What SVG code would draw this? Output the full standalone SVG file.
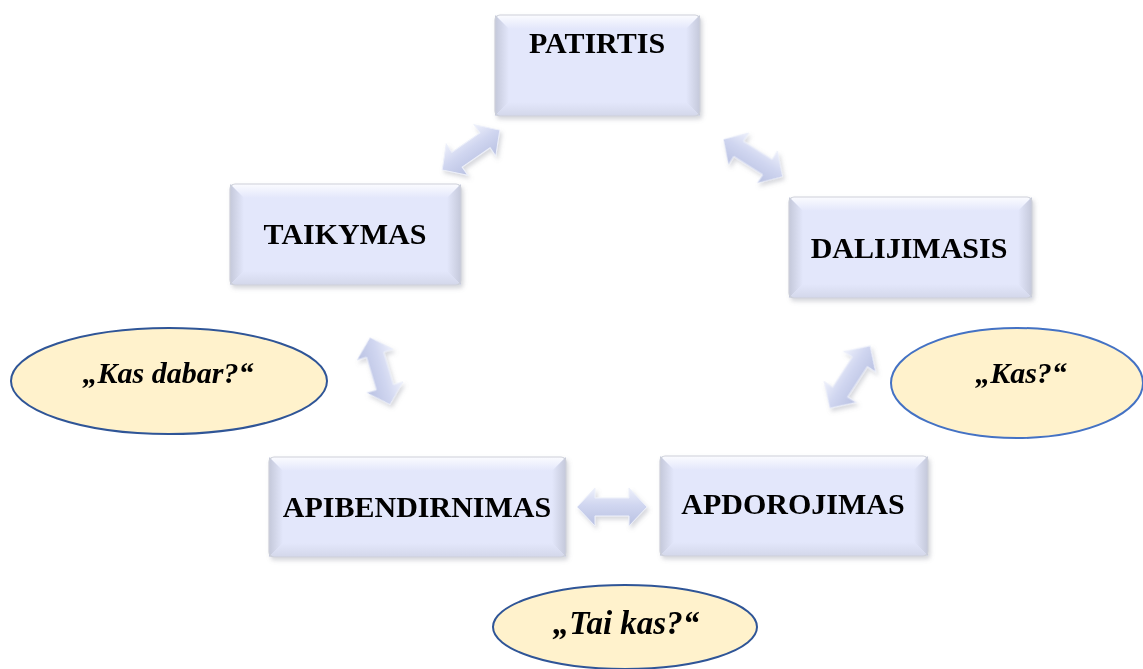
<svg xmlns="http://www.w3.org/2000/svg" xmlns:xlink="http://www.w3.org/1999/xlink" width="1143" height="669" viewBox="0 0 1143 669">
  <defs>
    <style>
      .label { font-family: "Liberation Serif", "Times New Roman", serif; font-weight: bold; font-size: 30px; fill: #000; text-anchor: middle; }
      .quote { font-family: "Liberation Serif", "Times New Roman", serif; font-weight: bold; font-style: italic; font-size: 30px; fill: #000; text-anchor: middle; }
      .face { fill: #E3E7FB; }
      .top { fill: url(#topGrad); }
      .left { fill: url(#leftGrad); }
      .right { fill: url(#rightGrad); }
      .bottom { fill: url(#bottomGrad); }
      .rim { fill: none; stroke: #CDD0D9; stroke-width: 1.2; }
      .bubble { fill: #FFF2CC; stroke-width: 2; }
      .arrow { fill: url(#arrowGrad); stroke: #EDF0FA; stroke-width: 1; }
    </style>
    <linearGradient id="topGrad" x1="0" y1="0" x2="0" y2="1">
      <stop offset="0" stop-color="#FBFCFF"/>
      <stop offset="1" stop-color="#E3E7FB"/>
    </linearGradient>
    <linearGradient id="bottomGrad" x1="0" y1="0" x2="0" y2="1">
      <stop offset="0" stop-color="#E3E7FB"/>
      <stop offset="1" stop-color="#D3D7EA"/>
    </linearGradient>
    <linearGradient id="leftGrad" x1="0" y1="0" x2="1" y2="0">
      <stop offset="0" stop-color="#C4C8DA"/>
      <stop offset="1" stop-color="#E3E7FB"/>
    </linearGradient>
    <linearGradient id="rightGrad" x1="0" y1="0" x2="1" y2="0">
      <stop offset="0" stop-color="#E3E7FB"/>
      <stop offset="1" stop-color="#C4C8DA"/>
    </linearGradient>
    <linearGradient id="arrowGrad" x1="0" y1="0" x2="0" y2="1">
      <stop offset="0" stop-color="#EEF0FB"/>
      <stop offset="0.45" stop-color="#D0D6F0"/>
      <stop offset="1" stop-color="#B9C1E2"/>
    </linearGradient>
    <filter id="shadow" x="-10%" y="-10%" width="120%" height="130%">
      <feDropShadow dx="2" dy="3" stdDeviation="2" flood-color="#7A7F90" flood-opacity="0.3"/>
    </filter>
    <path id="dblArrow" d="M-35,0 L-17,-19 L-17,-9 L17,-9 L17,-19 L35,0 L17,19 L17,9 L-17,9 L-17,19 Z"/>
  </defs>

  <rect x="0" y="0" width="1143" height="669" fill="#FFFFFF"/>

  <!-- double-headed connectors between stages -->
  <g id="connectors" class="arrow" filter="url(#shadow)">
    <use xlink:href="#dblArrow" transform="translate(471,150) rotate(-34.6)"/>
    <use xlink:href="#dblArrow" transform="translate(753,158) rotate(32.3)"/>
    <use xlink:href="#dblArrow" transform="translate(380,371) rotate(73.4)"/>
    <use xlink:href="#dblArrow" transform="translate(850,377) rotate(-57) scale(1.06,1)"/>
    <use xlink:href="#dblArrow" transform="translate(612,507)"/>
  </g>

  <!-- bevelled stage boxes -->
  <g id="patirtis" filter="url(#shadow)">
    <rect class="face" x="495" y="15" width="205" height="101" rx="5"/>
    <polygon class="top" points="495,15 700,15 686,29 509,29"/>
    <polygon class="left" points="495,15 509,29 509,102 495,116"/>
    <polygon class="right" points="700,15 700,116 686,102 686,29"/>
    <polygon class="bottom" points="495,116 509,102 686,102 700,116"/>
    <rect class="rim" x="495" y="15" width="205" height="101" rx="5"/>
    <text class="label" x="597" y="53">PATIRTIS</text>
  </g>

  <g id="taikymas" filter="url(#shadow)">
    <rect class="face" x="230" y="184" width="231" height="101" rx="5"/>
    <polygon class="top" points="230,184 461,184 447,198 244,198"/>
    <polygon class="left" points="230,184 244,198 244,271 230,285"/>
    <polygon class="right" points="461,184 461,285 447,271 447,198"/>
    <polygon class="bottom" points="230,285 244,271 447,271 461,285"/>
    <rect class="rim" x="230" y="184" width="231" height="101" rx="5"/>
    <text class="label" x="345" y="244">TAIKYMAS</text>
  </g>

  <g id="dalijimasis" filter="url(#shadow)">
    <rect class="face" x="789" y="197" width="243" height="101" rx="5"/>
    <polygon class="top" points="789,197 1032,197 1018,211 803,211"/>
    <polygon class="left" points="789,197 803,211 803,284 789,298"/>
    <polygon class="right" points="1032,197 1032,298 1018,284 1018,211"/>
    <polygon class="bottom" points="789,298 803,284 1018,284 1032,298"/>
    <rect class="rim" x="789" y="197" width="243" height="101" rx="5"/>
    <text class="label" x="909" y="258">DALIJIMASIS</text>
  </g>

  <g id="apibendrinimas" filter="url(#shadow)">
    <rect class="face" x="269" y="457" width="297" height="100" rx="5"/>
    <polygon class="top" points="269,457 566,457 552,471 283,471"/>
    <polygon class="left" points="269,457 283,471 283,543 269,557"/>
    <polygon class="right" points="566,457 566,557 552,543 552,471"/>
    <polygon class="bottom" points="269,557 283,543 552,543 566,557"/>
    <rect class="rim" x="269" y="457" width="297" height="100" rx="5"/>
    <text class="label" x="417" y="517">APIBENDIRNIMAS</text>
  </g>

  <g id="apdorojimas" filter="url(#shadow)">
    <rect class="face" x="660" y="456" width="268" height="100" rx="5"/>
    <polygon class="top" points="660,456 928,456 914,470 674,470"/>
    <polygon class="left" points="660,456 674,470 674,542 660,556"/>
    <polygon class="right" points="928,456 928,556 914,542 914,470"/>
    <polygon class="bottom" points="660,556 674,542 914,542 928,556"/>
    <rect class="rim" x="660" y="456" width="268" height="100" rx="5"/>
    <text class="label" x="793" y="514">APDOROJIMAS</text>
  </g>

  <!-- question bubbles -->
  <g id="q-kas-dabar">
    <ellipse class="bubble" cx="169" cy="381" rx="158" ry="53" stroke="#2F5597"/>
    <text class="quote" x="168" y="383">„Kas dabar?“</text>
  </g>

  <g id="q-kas">
    <ellipse class="bubble" cx="1017" cy="383" rx="126" ry="55" stroke="#4472C4"/>
    <text class="quote" x="1021" y="383">„Kas?“</text>
  </g>

  <g id="q-tai-kas">
    <ellipse class="bubble" cx="625" cy="627" rx="132" ry="42" stroke="#2F5597"/>
    <text class="quote" x="626" y="634" style="font-size:33px">„Tai kas?“</text>
  </g>
</svg>
